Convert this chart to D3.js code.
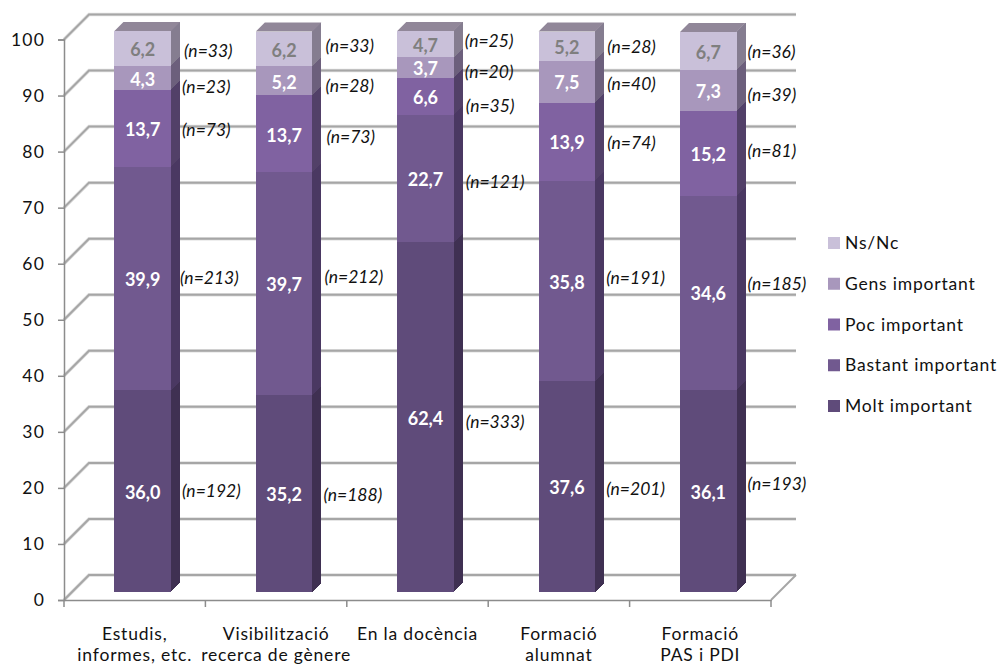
<!DOCTYPE html>
<html><head><meta charset="utf-8">
<script src="https://cdn.jsdelivr.net/npm/d3@7/dist/d3.min.js"></script>
<style>html,body{margin:0;background:#fff}svg{display:block}text{font-family:Lato,"Open Sans",sans-serif}</style>
</head><body><svg width="997" height="667"></svg>
<script>
const categories = ["Estudis,|informes, etc.", "Visibilització|recerca de gènere", "En la docència", "Formació|alumnat", "Formació|PAS i PDI"];
const seriesNames = ["Molt important", "Bastant important", "Poc important", "Gens important", "Ns/Nc"];
const molt = [36.0, 35.2, 62.4, 37.6, 36.1];
const bastant = [39.9, 39.7, 22.7, 35.8, 34.6];
const poc = [13.7, 13.7, 6.6, 13.9, 15.2];
const gens = [4.3, 5.2, 3.7, 7.5, 7.3];
const nsnc = [6.2, 6.2, 4.7, 5.2, 6.7];
const nMolt = [192, 188, 333, 201, 193];
const nBastant = [213, 212, 121, 191, 185];
const nPoc = [73, 73, 35, 74, 81];
const nGens = [23, 28, 20, 40, 39];
const nNsnc = [33, 33, 25, 28, 36];
const yTicks = [0,10,20,30,40,50,60,70,80,90,100];

// styles
const frontColors = ["#5f4b7a", "#71598f", "#8062a1", "#a897bc", "#c9c0d9"];
const sideColors = ["#3f3052", "#4a3862", "#524068", "#6c5f7c", "#857d90"];
const valueColors = ["#fff", "#fff", "#fff", "#fff", "#7f7f7f"];
// hand placement of the (n=..) notes, per series then per category
const noteDy = [[0,2,5,2,-7],[-1,-7,3,-3,-9],[2,3,9,1,-2],[9,5,4,2,5],[3,-3,-3,1,1]];
const noteDx = [[11,11,12,11,11],[9,12,12,11,11],[11,14,12,12,11],[11,13,11,12,11],[13,13,11,12,11]];

const values = [molt, bastant, poc, gens, nsnc];
const counts = [nMolt, nBastant, nPoc, nGens, nNsnc];
const svg = d3.select("svg");

const x = d3.scaleBand().domain(categories).range([64, 771]).paddingInner(0.6).paddingOuter(0.3);
const y = d3.scaleLinear().domain([0, 100]).range([600, 39.5]);
const wall = 25, barShift = 8, depth = 9;
const gridColor = "#a6a6a6", axisColor = "#8c8c8c";

// walls
const grid = svg.append("g").attr("fill", "none");
[["#dedede", 3.5], [gridColor, 2]].forEach(([c, w]) => {
  grid.append("g").selectAll("path").data(yTicks).join("path")
    .attr("stroke", c).attr("stroke-width", w)
    .attr("d", t => `M${x.range()[0]},${y(t)}L${x.range()[0]+wall},${y(t)-wall}L${x.range()[1]+wall},${y(t)-wall}`);
});
grid.append("path").attr("stroke", gridColor).attr("stroke-width", 2)
  .attr("d", `M${x.range()[1]},${y(0)}L${x.range()[1]+wall},${y(0)-wall}`);

// bars
const bars = svg.append("g");
categories.forEach((cat, ci) => {
  const left = x(cat) + barShift, w = x.bandwidth();
  let cum = 0;
  const g = bars.append("g");
  values.forEach((vals, si) => {
    const y0 = y(cum) - barShift, y1 = y(cum + vals[ci]) - barShift;
    cum += vals[ci];
    g.append("path").attr("fill", sideColors[si]).attr("shape-rendering", "crispEdges")
      .attr("d", `M${left+w},${y0}L${left+w+depth},${y0-depth}L${left+w+depth},${y1-depth}L${left+w},${y1}Z`);
    g.append("rect").attr("x", left).attr("y", y1).attr("width", w).attr("height", y0 - y1)
      .attr("fill", frontColors[si]).attr("shape-rendering", "crispEdges");
    const mid = (y0 + y1) / 2;
    svg.append("text").attr("class","val").attr("x", left + w / 2).attr("y", mid + 1.5).attr("dy", "0.35em")
      .attr("text-anchor", "middle").attr("font-size", 18).attr("font-weight", 700)
      .attr("fill", valueColors[si]).text(d3.format(".1f")(vals[ci]).replace(".", ","));
    svg.append("text").attr("class","note").attr("x", left + w + noteDx[si][ci]).attr("y", mid + noteDy[si][ci]).attr("dy", "0.35em")
      .attr("font-size", 17.5).attr("font-style", "italic").attr("fill", "#111")
      .text(`(n=${counts[si][ci]})`);
  });
  const top = y(cum) - barShift;
  g.append("path").attr("fill", "#918799")
    .attr("d", `M${left},${top}L${left+depth},${top-depth}L${left+w+depth},${top-depth}L${left+w},${top}Z`);
});
svg.selectAll("text.val,text.note").raise();

// axes
const yAxis = svg.append("g").attr("transform", `translate(${x.range()[0]},0)`)
  .call(d3.axisLeft(y).tickValues(yTicks).tickSize(6).tickPadding(14));
const xAxis = svg.append("g").attr("transform", `translate(0,${y(0)})`)
  .call(d3.axisBottom(x).tickSize(0).tickPadding(24).tickFormat(d => ""));
xAxis.selectAll(".tick text").attr("dy", null).each(function(d) {
  const t = d3.select(this);
  d.split("|").forEach((line, i) => {
    t.append("tspan").attr("x", 0).attr("y", 40 + i * 21).text(line);
  });
});
xAxis.append("g").selectAll("line").data(d3.range(categories.length + 1)).join("line")
  .attr("x1", i => x.range()[0] + i * x.step()).attr("x2", i => x.range()[0] + i * x.step())
  .attr("y1", 0).attr("y2", 7).attr("stroke", axisColor).attr("stroke-width", 1.5);
[yAxis, xAxis].forEach(a => {
  a.attr("font-family", null).attr("font-size", null);
  a.selectAll(".domain,.tick line").attr("stroke", axisColor).attr("stroke-width", 1.5);
  a.selectAll("text").attr("font-size", 17.5).attr("fill", "#111").attr("letter-spacing", 0.8);
});
yAxis.selectAll("text").attr("letter-spacing", 1.2).attr("x", -19);

// legend
const legendY = d3.scalePoint().domain(seriesNames).range([406, 243]);
const legend = svg.append("g").selectAll("g").data(seriesNames).join("g")
  .attr("transform", d => `translate(828,${legendY(d)})`);
legend.append("rect").attr("y", -6).attr("width", 12).attr("height", 12).attr("fill", (d, i) => frontColors[i]);
legend.append("text").attr("x", 17).attr("dy", "0.35em").attr("font-size", 17.5).attr("letter-spacing", 0.8).attr("fill", "#111").text(d => d);
</script></body></html>
